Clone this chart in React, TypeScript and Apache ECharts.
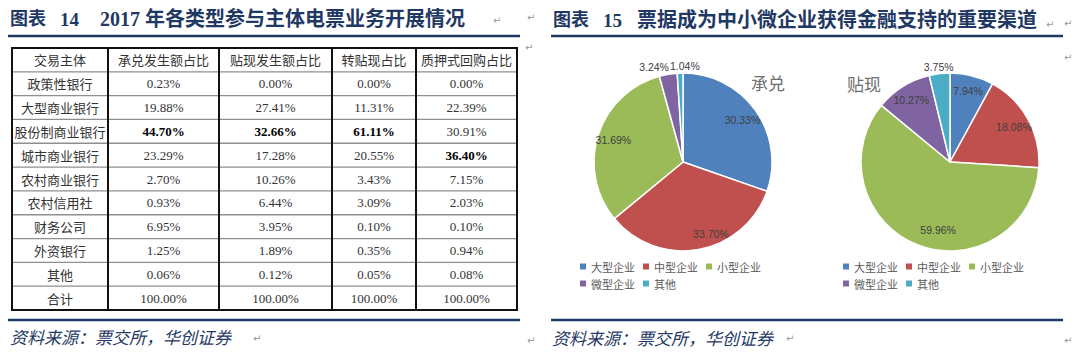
import React, { useEffect, useRef } from 'react';
import * as echarts from 'echarts';

// ---------- data ----------
const tableHeaders = ['交易主体', '承兑发生额占比', '贴现发生额占比', '转贴现占比', '质押式回购占比'];
const rowNames = ['政策性银行', '大型商业银行', '股份制商业银行', '城市商业银行', '农村商业银行', '农村信用社', '财务公司', '外资银行', '其他', '合计'];
const acceptShare = [0.23, 19.88, 44.7, 23.29, 2.7, 0.93, 6.95, 1.25, 0.06, 100.0];
const discountShare = [0.0, 27.41, 32.66, 17.28, 10.26, 6.44, 3.95, 1.89, 0.12, 100.0];
const rediscountShare = [0.0, 11.31, 61.11, 20.55, 3.43, 3.09, 0.1, 0.35, 0.05, 100.0];
const repoShare = [0.0, 22.39, 30.91, 36.4, 7.15, 2.03, 0.1, 0.94, 0.08, 100.0];

const enterpriseTypes = ['大型企业', '中型企业', '小型企业', '微型企业', '其他'];
const acceptByEnterprise = [30.33, 33.7, 31.69, 3.24, 1.04];
const discountByEnterprise = [7.94, 18.08, 59.96, 10.27, 3.75];

const title14 = ['图表', '14', '2017 年各类型参与主体电票业务开展情况'];
const title15 = ['图表', '15', '票据成为中小微企业获得金融支持的重要渠道'];
const sourceText = '资料来源：票交所，华创证券';
const pieTitles = ['承兑', '贴现'];

// ---------- style / layout ----------
const palette = ['#4F81BD', '#C0504D', '#9BBB59', '#8064A2', '#4BACC6'];
const navy = '#1F3864';
const CJK = '"Noto Sans CJK SC", sans-serif';
const SERIF_CJK = '"Liberation Serif", "Noto Sans CJK SC", serif';
const colX = [12, 108, 219, 332, 416, 517];
const tableTop = 48;
const tableBottom = 310;
const pieR = 89;
const markPos: [number, number][] = [
  [493, 20], [527, 17], [525, 47], [253, 338], [527, 340],
  [1046, 24], [1064, 23], [1064, 57], [786, 338], [1064, 340],
];

function txt(text: string, x: number, y: number, st: any) {
  return {
    type: 'text',
    silent: true,
    style: {
      text, x, y,
      align: st.align || 'left', textAlign: st.align || 'left',
      verticalAlign: 'middle', textVerticalAlign: 'middle',
      fill: st.fill || '#333',
      fontSize: st.fontSize || 13,
      fontFamily: st.fontFamily || CJK,
      fontWeight: st.fontWeight || 'normal',
      fontStyle: st.fontStyle || 'normal',
    },
  };
}
function ln(x1: number, y1: number, x2: number, y2: number, stroke: string, lw: number) {
  return { type: 'line', silent: true, shape: { x1, y1, x2, y2 }, style: { stroke, lineWidth: lw } };
}

function buildGraphic() {
  const g: any[] = [];
  // titles
  g.push(txt(title14[0], 10, 19, { fontSize: 18, fontWeight: 'bold', fill: navy, fontFamily: SERIF_CJK }));
  g.push(txt(title14[1], 60, 19, { fontSize: 19, fontWeight: 'bold', fill: navy, fontFamily: SERIF_CJK }));
  g.push(txt(title14[2], 100, 19, { fontSize: 20, fontWeight: 'bold', fill: navy, fontFamily: SERIF_CJK }));
  g.push(txt(title15[0], 553, 20, { fontSize: 18, fontWeight: 'bold', fill: navy, fontFamily: SERIF_CJK }));
  g.push(txt(title15[1], 603, 20, { fontSize: 19, fontWeight: 'bold', fill: navy, fontFamily: SERIF_CJK }));
  g.push(txt(title15[2], 637, 20, { fontSize: 20, fontWeight: 'bold', fill: navy, fontFamily: SERIF_CJK }));
  // rules
  g.push(ln(8, 36, 520, 36, navy, 2.5));
  g.push(ln(551, 36, 1063, 36, navy, 2.5));
  g.push(ln(8, 320, 520, 320, navy, 2.5));
  g.push(ln(551, 320, 1063, 320, navy, 2.5));
  // sources
  g.push(txt(sourceText, 10, 336, { fontSize: 17, fill: navy, fontStyle: 'italic' }));
  g.push(txt(sourceText, 552, 337, { fontSize: 17, fill: navy, fontStyle: 'italic' }));
  // paragraph marks
  markPos.forEach(([x, y]) => g.push(txt('↵', x, y, { fontSize: 10, fill: '#999', fontFamily: '"DejaVu Sans", sans-serif' })));

  // table
  const nRows = rowNames.length + 1;
  const rowH = (tableBottom - tableTop) / nRows;
  for (let i = 1; i < nRows; i++) {
    const y = tableTop + i * rowH;
    g.push(ln(colX[0], y, colX[colX.length - 1], y, '#8f8f8f', 1.3));
  }
  g.push(ln(colX[0] - 1, tableTop, colX[colX.length - 1] + 1, tableTop, '#111', 2));
  g.push(ln(colX[0] - 1, tableBottom, colX[colX.length - 1] + 1, tableBottom, '#111', 2));
  colX.forEach((x) => g.push(ln(x, tableTop, x, tableBottom, '#111', 2)));

  const cols = [acceptShare, discountShare, rediscountShare, repoShare];
  const centers = colX.slice(0, -1).map((x, i) => (x + colX[i + 1]) / 2);
  tableHeaders.forEach((h, c) => g.push(txt(h, centers[c], tableTop + rowH / 2, { align: 'center', fill: '#333' })));
  rowNames.forEach((name, r) => {
    const cy = tableTop + (r + 1.5) * rowH;
    g.push(txt(name, centers[0], cy, { align: 'center', fill: '#333' }));
    cols.forEach((arr, c) => {
      const body = arr.slice(0, rowNames.length - 1);
      const isMax = r < rowNames.length - 1 && arr[r] === Math.max(...body);
      g.push(txt(arr[r].toFixed(2) + '%', centers[c + 1], cy, {
        align: 'center',
        fill: isMax ? '#000' : '#333',
        fontWeight: isMax ? 'bold' : 'normal',
        fontFamily: SERIF_CJK,
      }));
    });
  });

  // pie titles
  g.push(txt(pieTitles[0], 751, 82, { fontSize: 17, fill: '#6e6e6e' }));
  g.push(txt(pieTitles[1], 847, 83, { fontSize: 17, fill: '#6e6e6e' }));
  return g;
}

const labelBase = { color: '#404040', fontSize: 10.5, fontFamily: '"Liberation Sans", Arial, sans-serif', textBorderWidth: 0 };

function pieGroup(name: string, cx: number, values: number[], nudges: Record<string, number[]>) {
  const cy = 162;
  const main = {
    type: 'pie', name, center: [cx, cy], radius: [0, pieR], startAngle: 90, clockwise: true,
    silent: true, avoidLabelOverlap: false,
    label: { show: false }, labelLine: { show: false },
    itemStyle: { borderColor: '#fff', borderWidth: 1.5 },
    data: enterpriseTypes.map((n, i) => ({ name: n, value: values[i] })),
  };
  const overlay = (radius: number[], showIf: (v: number) => boolean) => ({
    type: 'pie', name: name + '-lbl', center: [cx, cy], radius, startAngle: 90, clockwise: true,
    silent: true, avoidLabelOverlap: false, legendHoverLink: false,
    itemStyle: { color: 'rgba(0,0,0,0)', borderWidth: 0 },
    labelLine: { show: false },
    emphasis: { disabled: true },
    data: enterpriseTypes.map((n, i) => ({
      name: n, value: values[i],
      label: {
        show: showIf(values[i]), position: 'inside', ...labelBase,
        formatter: (p: any) => p.value.toFixed(2) + '%',
        padding: nudges[n] || [0, 0, 0, 0],
      },
    })),
  });
  return [main, overlay([50, 90], (v) => v >= 5), overlay([88, 98], (v) => v < 5)];
}

function buildOption() {
  const legendBase = {
    orient: 'horizontal', icon: 'rect', itemWidth: 6, itemHeight: 6, itemGap: 8, padding: 0,
    selectedMode: false, itemStyle: { borderWidth: 0 },
    textStyle: { fontSize: 11, color: '#595959', fontFamily: CJK },
  };
  return {
    animation: false,
    backgroundColor: '#fff',
    color: palette,
    legend: [
      { ...legendBase, left: 580, top: 261, data: enterpriseTypes.slice(0, 3) },
      { ...legendBase, left: 580, top: 278, data: enterpriseTypes.slice(3) },
      { ...legendBase, left: 843, top: 261, data: enterpriseTypes.slice(0, 3) },
      { ...legendBase, left: 843, top: 278, data: enterpriseTypes.slice(3) },
    ],
    series: [
      ...pieGroup(pieTitles[0], 683, acceptByEnterprise, {
        '微型企业': [0, 26, 0, 0], '其他': [0, 0, 0, 10], '中型企业': [0, 0, 14, 30],
      }),
      ...pieGroup(pieTitles[1], 950, discountByEnterprise, { '小型企业': [0, 0, 12, 30] }),
    ],
    graphic: { elements: buildGraphic() },
  };
}

export default function App() {
  const ref = useRef<HTMLDivElement>(null);
  useEffect(() => {
    document.body.style.margin = '0';
    if (!ref.current) return;
    const chart = echarts.init(ref.current, null, { renderer: 'svg' });
    chart.setOption(buildOption() as any);
    return () => chart.dispose();
  }, []);
  return <div ref={ref} style={{ width: 1074, height: 359 }} />;
}
